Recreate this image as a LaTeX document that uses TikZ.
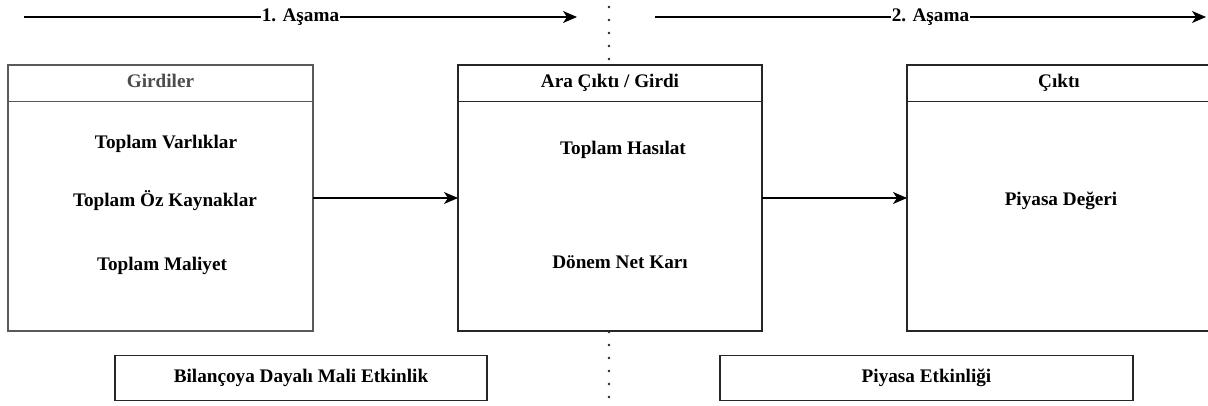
\documentclass[tikz,border=0pt]{standalone}
\usepackage{fontspec}
\setmainfont{Liberation Serif}
\usepackage{tikz}
\usetikzlibrary{arrows.meta}

\begin{document}
\begin{tikzpicture}[->,>={Stealth[length=14pt,width=12pt,inset=4pt]},x=1pt,y=-1pt,
    every node/.style={font=\fontsize{19.2}{22}\selectfont\bfseries,inner sep=0pt,outer sep=0pt},
    box/.style={draw=black!85,fill=white,line width=1.4pt,rectangle,minimum height=266pt},
    hdr/.style={draw=black!85,line width=1.4pt,rectangle,anchor=north,minimum height=36.5pt,
      text height=11pt,text depth=3pt},
    tag/.style={draw=black!85,fill=white,line width=1.8pt,rectangle,minimum height=45pt}]
  \clip (0,0) rectangle (1208,406);

  \coordinate (d1) at (609,7);
  \coordinate (d2) at (609,404);
  \draw[-,line width=2.6pt,line cap=round,dash pattern=on 0pt off 13pt,black!85] (d1) -- (d2);

  \coordinate (s1) at (24,17);
  \coordinate (e1) at (577,17);
  \coordinate (s2) at (655,17);
  \coordinate (e2) at (1206,17);
  \draw[line width=1.3pt] (s1) -- node[fill=white,inner xsep=1pt] {1. Aşama} (e1);
  \draw[line width=1.3pt] (s2) -- node[fill=white,inner xsep=1pt] {2. Aşama} (e2);

  \node[box,draw=black!65,minimum width=305pt] (gir) at (160.5,198) {};
  \node[hdr,draw=black!65,text=black!70,minimum width=305pt] (girhdr) at (gir.north) {Girdiler};
  \node (varlik) at (166,144) {Toplam Varlıklar};
  \node (ozkay) at (165,201) {Toplam Öz Kaynaklar};
  \node (maliyet) at (162,266) {Toplam Maliyet};

  \node[box,minimum width=304pt] (ara) at (610,198) {};
  \node[hdr,minimum width=304pt] (arahdr) at (ara.north) {Ara Çıktı / Girdi};
  \node (hasilat) at (623,150) {Toplam Hasılat};
  \node (netkar) at (620,262) {Dönem Net Karı};

  \node[box,minimum width=304pt] (cikti) at (1059,198) {};
  \node[hdr,minimum width=304pt] (ciktihdr) at (cikti.north) {Çıktı};
  \node (deger) at (1061,201) {Piyasa Değeri};

  \draw[line width=1.3pt] (gir) -- (ara);
  \draw[line width=1.3pt] (ara) -- (cikti);

  \node[tag,minimum width=372pt] (bilanco) at (301,378) {Bilançoya Dayalı Mali Etkinlik};
  \node[tag,minimum width=413pt] (piyasa) at (926.5,378) {Piyasa Etkinliği};
\end{tikzpicture}
\end{document}
